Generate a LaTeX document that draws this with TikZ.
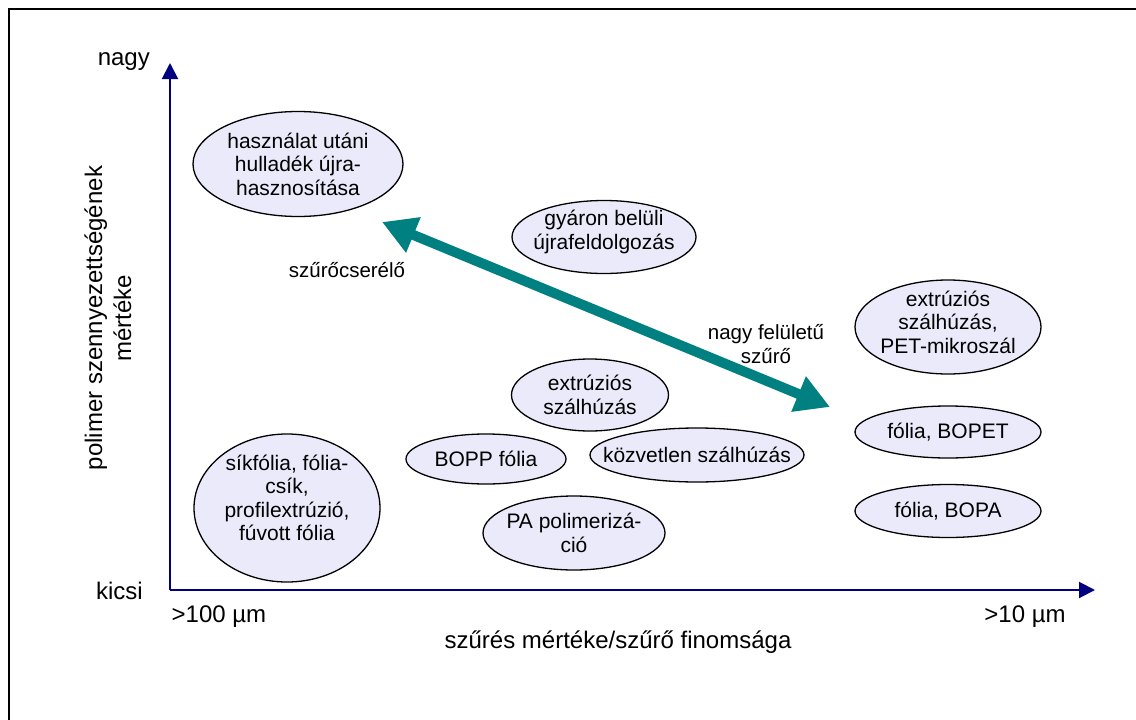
\documentclass[tikz,border=0pt]{standalone}
\usepackage{fontspec}
\setmainfont{Liberation Sans}
\usepackage{tikz}
\usepackage{xcolor}
\usetikzlibrary{arrows.meta,shapes.geometric,positioning}
\definecolor{BlobLilac}{HTML}{EAEAFA}
\definecolor{AxisNavy}{HTML}{000080}
\definecolor{FilterTeal}{HTML}{008080}
\tikzset{
  blob/.style={ellipse, draw=black, line width=1.3pt, fill=BlobLilac, inner sep=0pt},
  blobtext/.style={align=center, inner sep=0pt, font=\fontsize{21}{23.5}\selectfont},
  axlabel/.style={align=center, inner sep=0pt, font=\fontsize{24}{29}\selectfont},
  notelabel/.style={align=center, inner sep=0pt, font=\fontsize{20.5}{24}\selectfont},
  axarrow/.style={-{Triangle[length=16pt,width=16pt]}, line width=2pt, draw=AxisNavy},
  filterarrow/.style={{Triangle[length=34pt,width=36pt]}-{Triangle[length=34pt,width=36pt]}, line width=10pt, draw=FilterTeal}
}

\begin{document}
\begin{tikzpicture}[x=1pt,y=-1pt]
  \useasboundingbox (0,0) rectangle (1136,720);
  \clip (0,0) rectangle (1136,720);
  \fill[white] (0,0) rectangle (1136,720);
  \draw[line width=2pt] (9,740) -- (9,9) -- (1150,9);
  % axes
  \coordinate (origin) at (170,590);
  \coordinate (ytop) at (170,63);
  \coordinate (xend) at (1095,590);
  \draw[axarrow] (origin) -- (ytop);
  \draw[axarrow] (origin) -- (xend);
  \node[axlabel, anchor=east] (nagy) at (150,62) {nagy};
  \node[axlabel, anchor=east] (kicsi) at (143,591) {kicsi};
  \node[axlabel] (coarse) at (219,617) {>100 µm};
  \node[axlabel] (fine) at (1025,617) {>10 µm};
  \node[axlabel] (xtitle) at (618,642) {szűrés mértéke/szűrő finomsága};
  \node[axlabel, rotate=90] (ytitle) at (108,318) {polimer szennyezettségének\\mértéke};
  % ellipses
  \node[blob, minimum width=210, minimum height=105] (haszn) at (298,164) {};
  \node[blobtext] (haszn-t) at (haszn) {használat utáni\\hulladék újra-\\hasznosítása};
  \node[blob, minimum width=184, minimum height=73] (gyaron) at (604,237) {};
  \node[blobtext] (gyaron-t) at ([yshift=5pt]gyaron.center) {gyáron belüli\\újrafeldolgozás};
  \node[blob, minimum width=157, minimum height=72] (extr) at (590,395) {};
  \node[blobtext] (extr-t) at (extr) {extrúziós\\szálhúzás};
  \node[blob, minimum width=160, minimum height=50] (bopp) at (486,459) {};
  \node[blobtext] (bopp-t) at (bopp) {BOPP fólia};
  \node[blob, minimum width=214, minimum height=54] (kozv) at (697,455) {};
  \node[blobtext] (kozv-t) at (kozv) {közvetlen szálhúzás};
  \node[blob, minimum width=182, minimum height=74] (pa) at (574,533) {};
  \node[blobtext] (pa-t) at (pa) {PA polimerizá-\\ció};
  \node[blob, minimum width=186, minimum height=148] (sik) at (287,508) {};
  \node[blobtext] (sik-t) at ([yshift=10pt]sik.center) {síkfólia, fólia-\\csík,\\profilextrúzió,\\fúvott fólia};
  \node[blob, minimum width=186, minimum height=94] (pet) at (948,327) {};
  \node[blobtext] (pet-t) at ([yshift=5pt]pet.center) {extrúziós\\szálhúzás,\\PET-mikroszál};
  \node[blob, minimum width=186, minimum height=52] (bopet) at (948,432) {};
  \node[blobtext] (bopet-t) at (bopet) {fólia, BOPET};
  \node[blob, minimum width=186, minimum height=53] (bopa) at (948,511) {};
  \node[blobtext] (bopa-t) at (bopa) {fólia, BOPA};
  % filter arrow
  \coordinate (changer) at (382,222);
  \coordinate (surface) at (830,407);
  \draw[filterarrow] (changer) -- (surface);
  \node[notelabel] (changer-t) at (347,270) {szűrőcserélő};
  \node[notelabel] (surface-t) at (766,344) {nagy felületű\\szűrő};
\end{tikzpicture}
\end{document}
